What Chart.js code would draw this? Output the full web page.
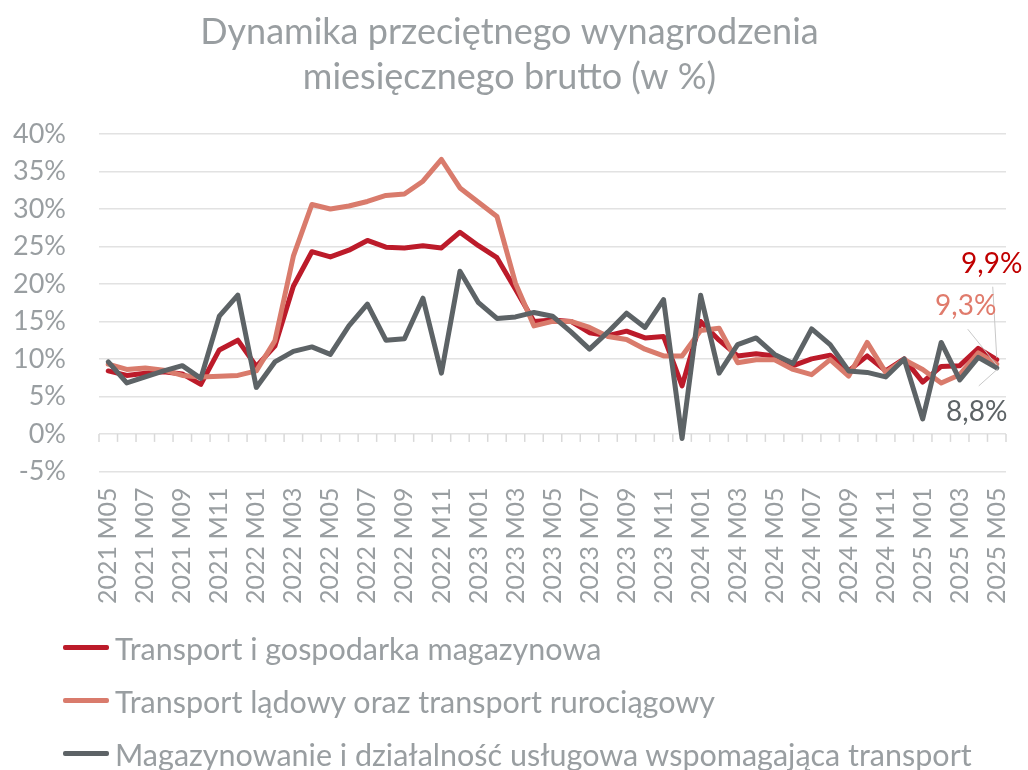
<!DOCTYPE html>
<html lang="pl">
<head>
<meta charset="utf-8">
<title>Dynamika przeciętnego wynagrodzenia</title>
<script src="https://cdn.jsdelivr.net/npm/chart.js@4.4.1/dist/chart.umd.min.js"></script>
<style>
  html, body { margin: 0; padding: 0; background: #fff; }
  #wrap { position: relative; width: 1028px; height: 770px; }
  #legend {
    position: absolute; left: 63px; top: 621px;
    font-family: Lato, "Open Sans", sans-serif; font-size: 30.5px; color: #999ea1;
  }
  .item { display: flex; align-items: center; height: 53px; white-space: nowrap; }
  .swatch { width: 46px; height: 5px; border-radius: 2px; margin-right: 6px; }
</style>
</head>
<body>
<div id="wrap">
  <canvas id="chart" width="1028" height="770"></canvas>
  <div id="legend"></div>
</div>
<script>
// Data
const months = [
  "2021 M05", "2021 M06", "2021 M07", "2021 M08", "2021 M09", "2021 M10", "2021 M11", "2021 M12",
  "2022 M01", "2022 M02", "2022 M03", "2022 M04", "2022 M05", "2022 M06", "2022 M07", "2022 M08",
  "2022 M09", "2022 M10", "2022 M11", "2022 M12", "2023 M01", "2023 M02", "2023 M03", "2023 M04",
  "2023 M05", "2023 M06", "2023 M07", "2023 M08", "2023 M09", "2023 M10", "2023 M11", "2023 M12",
  "2024 M01", "2024 M02", "2024 M03", "2024 M04", "2024 M05", "2024 M06", "2024 M07", "2024 M08",
  "2024 M09", "2024 M10", "2024 M11", "2024 M12", "2025 M01", "2025 M02", "2025 M03", "2025 M04",
  "2025 M05"
];

const seriesNames = [
  "Transport i gospodarka magazynowa",
  "Transport lądowy oraz transport rurociągowy",
  "Magazynowanie i działalność usługowa wspomagająca transport"
];

const transportTotal = [
  8.4, 7.8, 8.1, 8.3, 8.0, 6.6, 11.2, 12.5, 9.0, 11.7, 19.7, 24.3, 23.6, 24.5, 25.8, 24.9,
  24.8, 25.1, 24.8, 26.9, 25.1, 23.5, 19.3, 15.0, 15.2, 15.0, 13.5, 13.1, 13.7, 12.8, 13.0, 6.4,
  15.0, 12.5, 10.4, 10.7, 10.4, 9.1, 10.0, 10.5, 8.4, 10.4, 8.4, 10.0, 6.9, 9.0, 9.1, 11.4,
  9.9
];

const landTransport = [
  9.3, 8.6, 8.8, 8.5, 7.8, 7.6, 7.7, 7.8, 8.4, 12.4, 23.7, 30.6, 30.0, 30.4, 31.0, 31.8,
  32.0, 33.7, 36.6, 32.8, 30.9, 29.0, 20.1, 14.4, 15.0, 15.0, 14.2, 13.0, 12.6, 11.3, 10.4, 10.4,
  13.8, 14.1, 9.5, 9.9, 9.9, 8.6, 7.9, 9.9, 7.7, 12.2, 8.2, 9.9, 8.6, 6.8, 7.9, 10.8,
  9.3
];

const warehousing = [
  9.6, 6.8, 7.6, 8.4, 9.1, 7.4, 15.7, 18.5, 6.2, 9.6, 11.0, 11.6, 10.6, 14.4, 17.3, 12.5,
  12.7, 18.1, 8.1, 21.7, 17.5, 15.4, 15.6, 16.2, 15.7, 13.6, 11.3, 13.6, 16.1, 14.2, 17.9, -0.6,
  18.5, 8.1, 11.9, 12.8, 10.6, 9.4, 14.0, 11.9, 8.4, 8.2, 7.6, 10.0, 2.0, 12.2, 7.2, 10.2,
  8.8
];

const yTicks = [-5, 0, 5, 10, 15, 20, 25, 30, 35, 40];

// Colours
const lineColors = ["#bc1b2a", "#d97b6c", "#5d6366"];
const labelColors = ["#c00000", "#e07b6c", "#5d6366"];
const textGrey = "#999ea1";
const gridGrey = "#e2e2e2";
const fontFamily = "Lato, 'Open Sans', sans-serif";

const fmt = (v) => v.toFixed(1).replace(".", ",") + "%";

// Tick marks on the 0% line + end labels with leader lines
const extras = {
  id: "extras",
  afterDraw(chart) {
    const { ctx, scales: { x, y } } = chart;
    const step = x.getPixelForValue(1) - x.getPixelForValue(0);
    const y0 = y.getPixelForValue(0);
    ctx.save();
    ctx.strokeStyle = "#d9d9d9";
    ctx.lineWidth = 1.5;
    for (let i = 0; i <= months.length; i++) {
      const px = x.getPixelForValue(0) - step / 2 + i * step;
      ctx.beginPath();
      ctx.moveTo(px, y0);
      ctx.lineTo(px, y0 + 8);
      ctx.stroke();
    }
    ctx.restore();
  },
  afterDatasetsDraw(chart) {
    const ctx = chart.ctx;
    // label centre offset and leader start, relative to the last point
    const layout = [
      { dx: -5, dy: -96, lx: -4, ly: -73, ex: 0, ey: -2 },
      { dx: -31, dy: -58, lx: -29, ly: -35, ex: 0, ey: 1 },
      { dx: -20, dy: 44, lx: -18, ly: 18, ex: 1, ey: 1 }
    ];
    ctx.save();
    chart.data.datasets.forEach((ds, i) => {
      const meta = chart.getDatasetMeta(i);
      const last = meta.data[meta.data.length - 1];
      const l = layout[i];
      ctx.strokeStyle = "#c8c8c8";
      ctx.lineWidth = 1;
      ctx.beginPath();
      ctx.moveTo(last.x + l.lx, last.y + l.ly);
      ctx.lineTo(last.x + l.ex, last.y + l.ey);
      ctx.stroke();
      ctx.fillStyle = labelColors[i];
      ctx.font = "28px " + fontFamily;
      ctx.textAlign = "center";
      ctx.textBaseline = "middle";
      ctx.fillText(fmt(ds.data[ds.data.length - 1]), last.x + l.dx, last.y + l.dy);
    });
    ctx.restore();
  }
};

const makeDataset = (label, data, i) => ({
  label: label,
  data: data,
  borderColor: lineColors[i],
  backgroundColor: lineColors[i],
  borderWidth: 5,
  borderJoinStyle: "round",
  borderCapStyle: "round",
  pointRadius: 0,
  tension: 0,
  order: 3 - i
});

const chart = new Chart(document.getElementById("chart"), {
  type: "line",
  data: {
    labels: months,
    datasets: [
      makeDataset(seriesNames[0], transportTotal, 0),
      makeDataset(seriesNames[1], landTransport, 1),
      makeDataset(seriesNames[2], warehousing, 2)
    ]
  },
  options: {
    responsive: false,
    animation: false,
    layout: { padding: { left: 13, right: 22, top: 0, bottom: 158 } },
    plugins: {
      legend: { display: false },
      tooltip: { enabled: false },
      title: {
        display: true,
        text: ["Dynamika przeciętnego wynagrodzenia", "miesięcznego brutto (w %)"],
        color: textGrey,
        font: { family: fontFamily, size: 36, weight: "normal", lineHeight: 1.25 },
        padding: { top: 10, bottom: 34 }
      }
    },
    scales: {
      x: {
        offset: true,
        afterFit: (axis) => { axis.paddingLeft = 0; axis.paddingRight = 0; },
        grid: { display: false },
        border: { display: false },
        ticks: {
          autoSkip: false,
          maxRotation: 90,
          minRotation: 90,
          padding: 8,
          color: textGrey,
          font: { family: fontFamily, size: 25 },
          callback: (val, idx) => (idx % 2 === 0 ? months[idx] : "")
        }
      },
      y: {
        min: -5,
        max: 40,
        afterBuildTicks: (axis) => { axis.ticks = yTicks.map(v => ({ value: v })); },
        afterFit: (axis) => { axis.width = 86; },
        grid: { color: gridGrey, lineWidth: 1.5, drawTicks: false },
        border: { display: false },
        ticks: {
          padding: 33,
          color: textGrey,
          font: { family: fontFamily, size: 27 },
          callback: (v) => v + "%"
        }
      }
    }
  },
  plugins: [extras]
});

// Legend (HTML, below the canvas plot)
const legendEl = document.getElementById("legend");
legendEl.innerHTML = seriesNames.map((name, i) => `
  <div class="item"><span class="swatch" style="background:${lineColors[i]}"></span>${name}</div>
`).join("");
</script>
</body>
</html>
